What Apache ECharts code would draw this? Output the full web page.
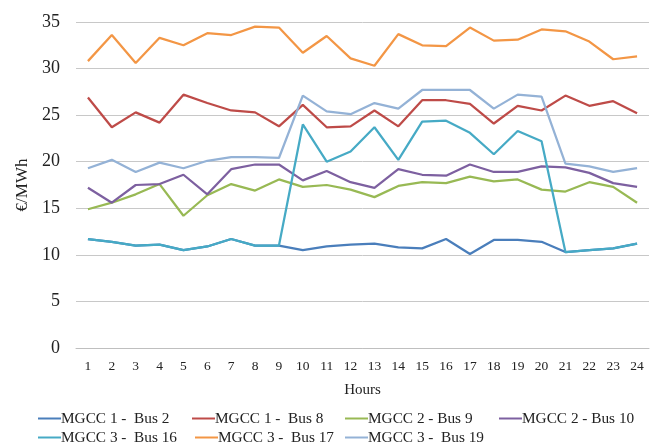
<!DOCTYPE html>
<html><head><meta charset="utf-8">
<script src="https://cdn.jsdelivr.net/npm/echarts@6/dist/echarts.min.js"></script>
<style>html,body{margin:0;padding:0;background:#fff}#c{width:657px;height:446px}</style>
</head><body><div id="c"></div>
<script>
const hours = ['1','2','3','4','5','6','7','8','9','10','11','12','13','14','15','16','17','18','19','20','21','22','23','24'];
const bus2  = [11.7,11.4,11.0,11.1,10.5,10.9,11.7,11.0,11.0,10.5,10.9,11.1,11.2,10.8,10.7,11.7,10.1,11.6,11.6,11.4,10.3,10.5,10.7,11.2];
const bus8  = [26.9,23.7,25.3,24.2,27.2,26.3,25.5,25.3,23.8,26.1,23.7,23.8,25.5,23.8,26.6,26.6,26.2,24.1,26.0,25.5,27.1,26.0,26.5,25.2];
const bus9  = [14.9,15.6,16.5,17.6,14.2,16.4,17.6,16.9,18.1,17.3,17.5,17.0,16.2,17.4,17.8,17.7,18.4,17.9,18.1,17.0,16.8,17.8,17.3,15.6];
const bus10 = [17.2,15.6,17.5,17.6,18.6,16.5,19.2,19.7,19.7,18.0,19.0,17.8,17.2,19.2,18.6,18.5,19.7,18.9,18.9,19.5,19.4,18.8,17.7,17.3];
const bus16 = [11.7,11.4,11.0,11.1,10.5,10.9,11.7,11.0,11.0,24.0,20.0,21.1,23.7,20.2,24.3,24.4,23.1,20.8,23.3,22.2,10.3,10.5,10.7,11.2];
const bus17 = [30.8,33.6,30.6,33.3,32.5,33.8,33.6,34.5,34.4,31.7,33.5,31.1,30.3,33.7,32.5,32.4,34.4,33.0,33.1,34.2,34.0,32.9,31.0,31.3];
const bus19 = [19.3,20.2,18.9,19.9,19.3,20.1,20.5,20.5,20.4,27.1,25.4,25.1,26.3,25.7,27.7,27.7,27.7,25.7,27.2,27.0,19.8,19.5,18.9,19.3];
const names = ['MGCC 1 -  Bus 2','MGCC 1 -  Bus 8','MGCC 2 - Bus 9','MGCC 2 - Bus 10','MGCC 3 -  Bus 16','MGCC 3 -  Bus 17','MGCC 3 -  Bus 19'];
const colors = ['#4A7EBB','#BE4B48','#98B954','#7D60A0','#46AAC5','#F39645','#94B2D6'];
const datas = [bus2,bus8,bus9,bus10,bus16,bus17,bus19];
const font = 'Liberation Serif';
const legendPos = [[38,411],[192,411],[345,411],[499,411],[38,430],[195,430],[345,430]];
const chart = echarts.init(document.getElementById('c'), null, {renderer:'canvas'});
chart.setOption({
  animation: false,
  color: colors,
  grid: {left: 76, right: 8, top: 22, bottom: 98},
  legend: names.map((n,i) => ({
    left: legendPos[i][0], top: legendPos[i][1], padding: 0,
    itemWidth: 23, itemHeight: 2, icon: 'rect', data: [n],
    textStyle: {fontFamily: font, fontSize: 15.3, color: '#222', padding:[0,0,0,-5]}
  })),
  xAxis: {
    type: 'category', data: hours, boundaryGap: true,
    name: 'Hours', nameLocation: 'middle', nameGap: 35,
    nameTextStyle: {fontFamily: font, fontSize: 15, color: '#222'},
    axisLine: {lineStyle: {color: '#BFBFBF', width: 1}},
    axisTick: {show: false},
    axisLabel: {fontFamily: font, fontSize: 13.5, color: '#222', margin: 11}
  },
  yAxis: {
    type: 'value', min: 0, max: 35, interval: 5,
    name: '€/MWh', nameLocation: 'middle', nameGap: 44,
    nameTextStyle: {fontFamily: font, fontSize: 17, color: '#222'},
    axisLine: {show: false}, axisTick: {show: false},
    axisLabel: {fontFamily: font, fontSize: 18, color: '#222', margin: 16},
    splitLine: {lineStyle: {color: '#C8C8C8', width: 1}}
  },
  series: names.map((n,i) => ({
    name: n, type: 'line', data: datas[i], symbol: 'none',
    lineStyle: {width: 2.25, color: colors[i]}, itemStyle: {color: colors[i]}
  }))
});
</script></body></html>
